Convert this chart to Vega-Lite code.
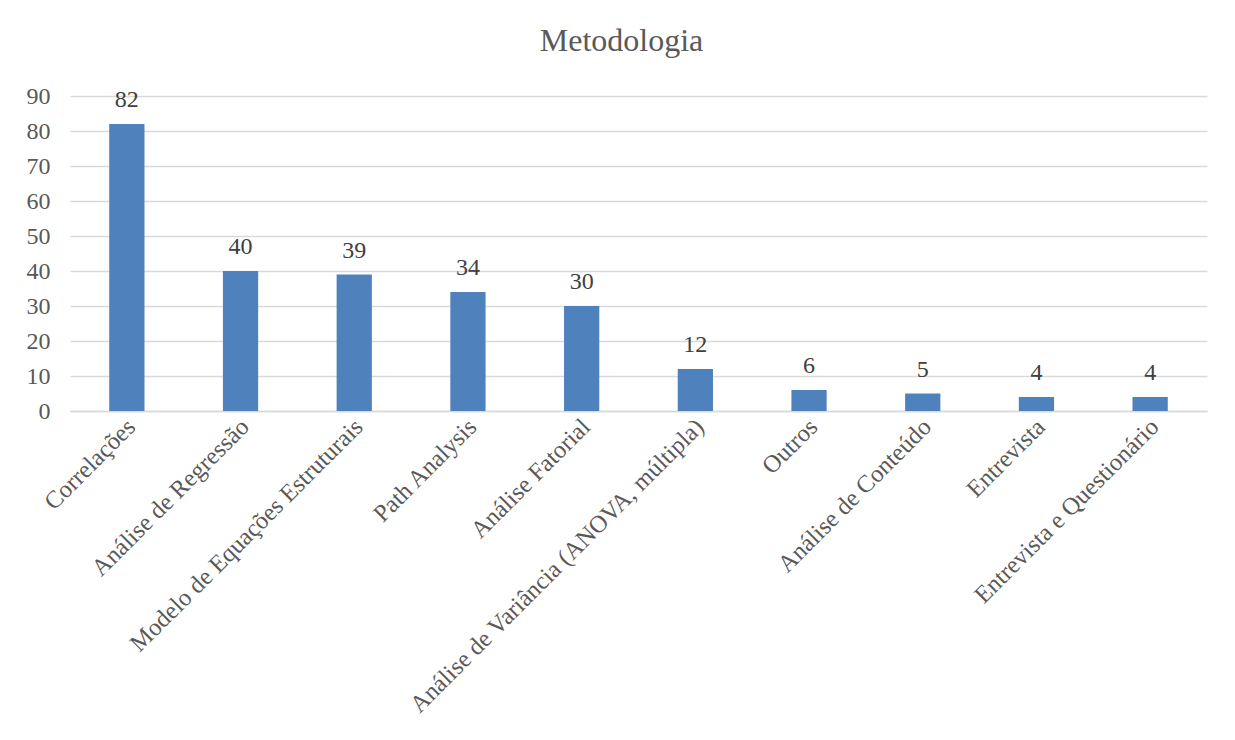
{
  "$schema": "https://vega.github.io/schema/vega-lite/v6.json",
  "width": 1137,
  "height": 315,
  "autosize": {"type": "none"},
  "padding": {"left": 70, "top": 96, "right": 28, "bottom": 329},
  "background": "white",
  "title": {
    "text": "Metodologia",
    "font": "Liberation Serif",
    "fontSize": 32,
    "fontWeight": "normal",
    "color": "#595959",
    "anchor": "middle",
    "dx": -17,
    "offset": 26
  },
  "data": {
    "values": [
      {"metodo": "Correlações", "n": 82},
      {"metodo": "Análise de Regressão", "n": 40},
      {"metodo": "Modelo de Equações Estruturais", "n": 39},
      {"metodo": "Path Analysis", "n": 34},
      {"metodo": "Análise Fatorial", "n": 30},
      {"metodo": "Análise de Variância (ANOVA, múltipla)", "n": 12},
      {"metodo": "Outros", "n": 6},
      {"metodo": "Análise de Conteúdo", "n": 5},
      {"metodo": "Entrevista", "n": 4},
      {"metodo": "Entrevista e Questionário", "n": 4}
    ]
  },
  "encoding": {
    "x": {
      "field": "metodo",
      "type": "nominal",
      "sort": null,
      "scale": {"paddingInner": 0.69, "paddingOuter": 0.345},
      "axis": {
        "title": null,
        "labelAngle": -45,
        "labelAlign": "right",
        "labelBaseline": "middle",
        "labelFont": "Liberation Serif",
        "labelFontSize": 24.5,
        "labelColor": "#595959",
        "labelPadding": 12,
        "labelOffset": 5,
        "labelLimit": 0,
        "ticks": false,
        "domain": true,
        "domainColor": "#d9d9d9",
        "domainWidth": 1.5,
        "grid": false
      }
    },
    "y": {
      "field": "n",
      "type": "quantitative",
      "scale": {"domain": [0, 90], "nice": false},
      "axis": {
        "title": null,
        "values": [0, 10, 20, 30, 40, 50, 60, 70, 80, 90],
        "labelFont": "Liberation Serif",
        "labelFontSize": 24,
        "labelColor": "#595959",
        "labelPadding": 20,
        "ticks": false,
        "domain": false,
        "grid": true,
        "gridColor": "#d9d9d9",
        "gridWidth": 1.5
      }
    }
  },
  "layer": [
    {"mark": {"type": "bar", "color": "#4f81bd"}},
    {
      "mark": {
        "type": "text",
        "font": "Liberation Serif",
        "fontSize": 24,
        "color": "#404040",
        "baseline": "alphabetic",
        "dy": -17
      },
      "encoding": {"text": {"field": "n", "type": "quantitative"}}
    }
  ],
  "config": {"view": {"stroke": null}}
}
